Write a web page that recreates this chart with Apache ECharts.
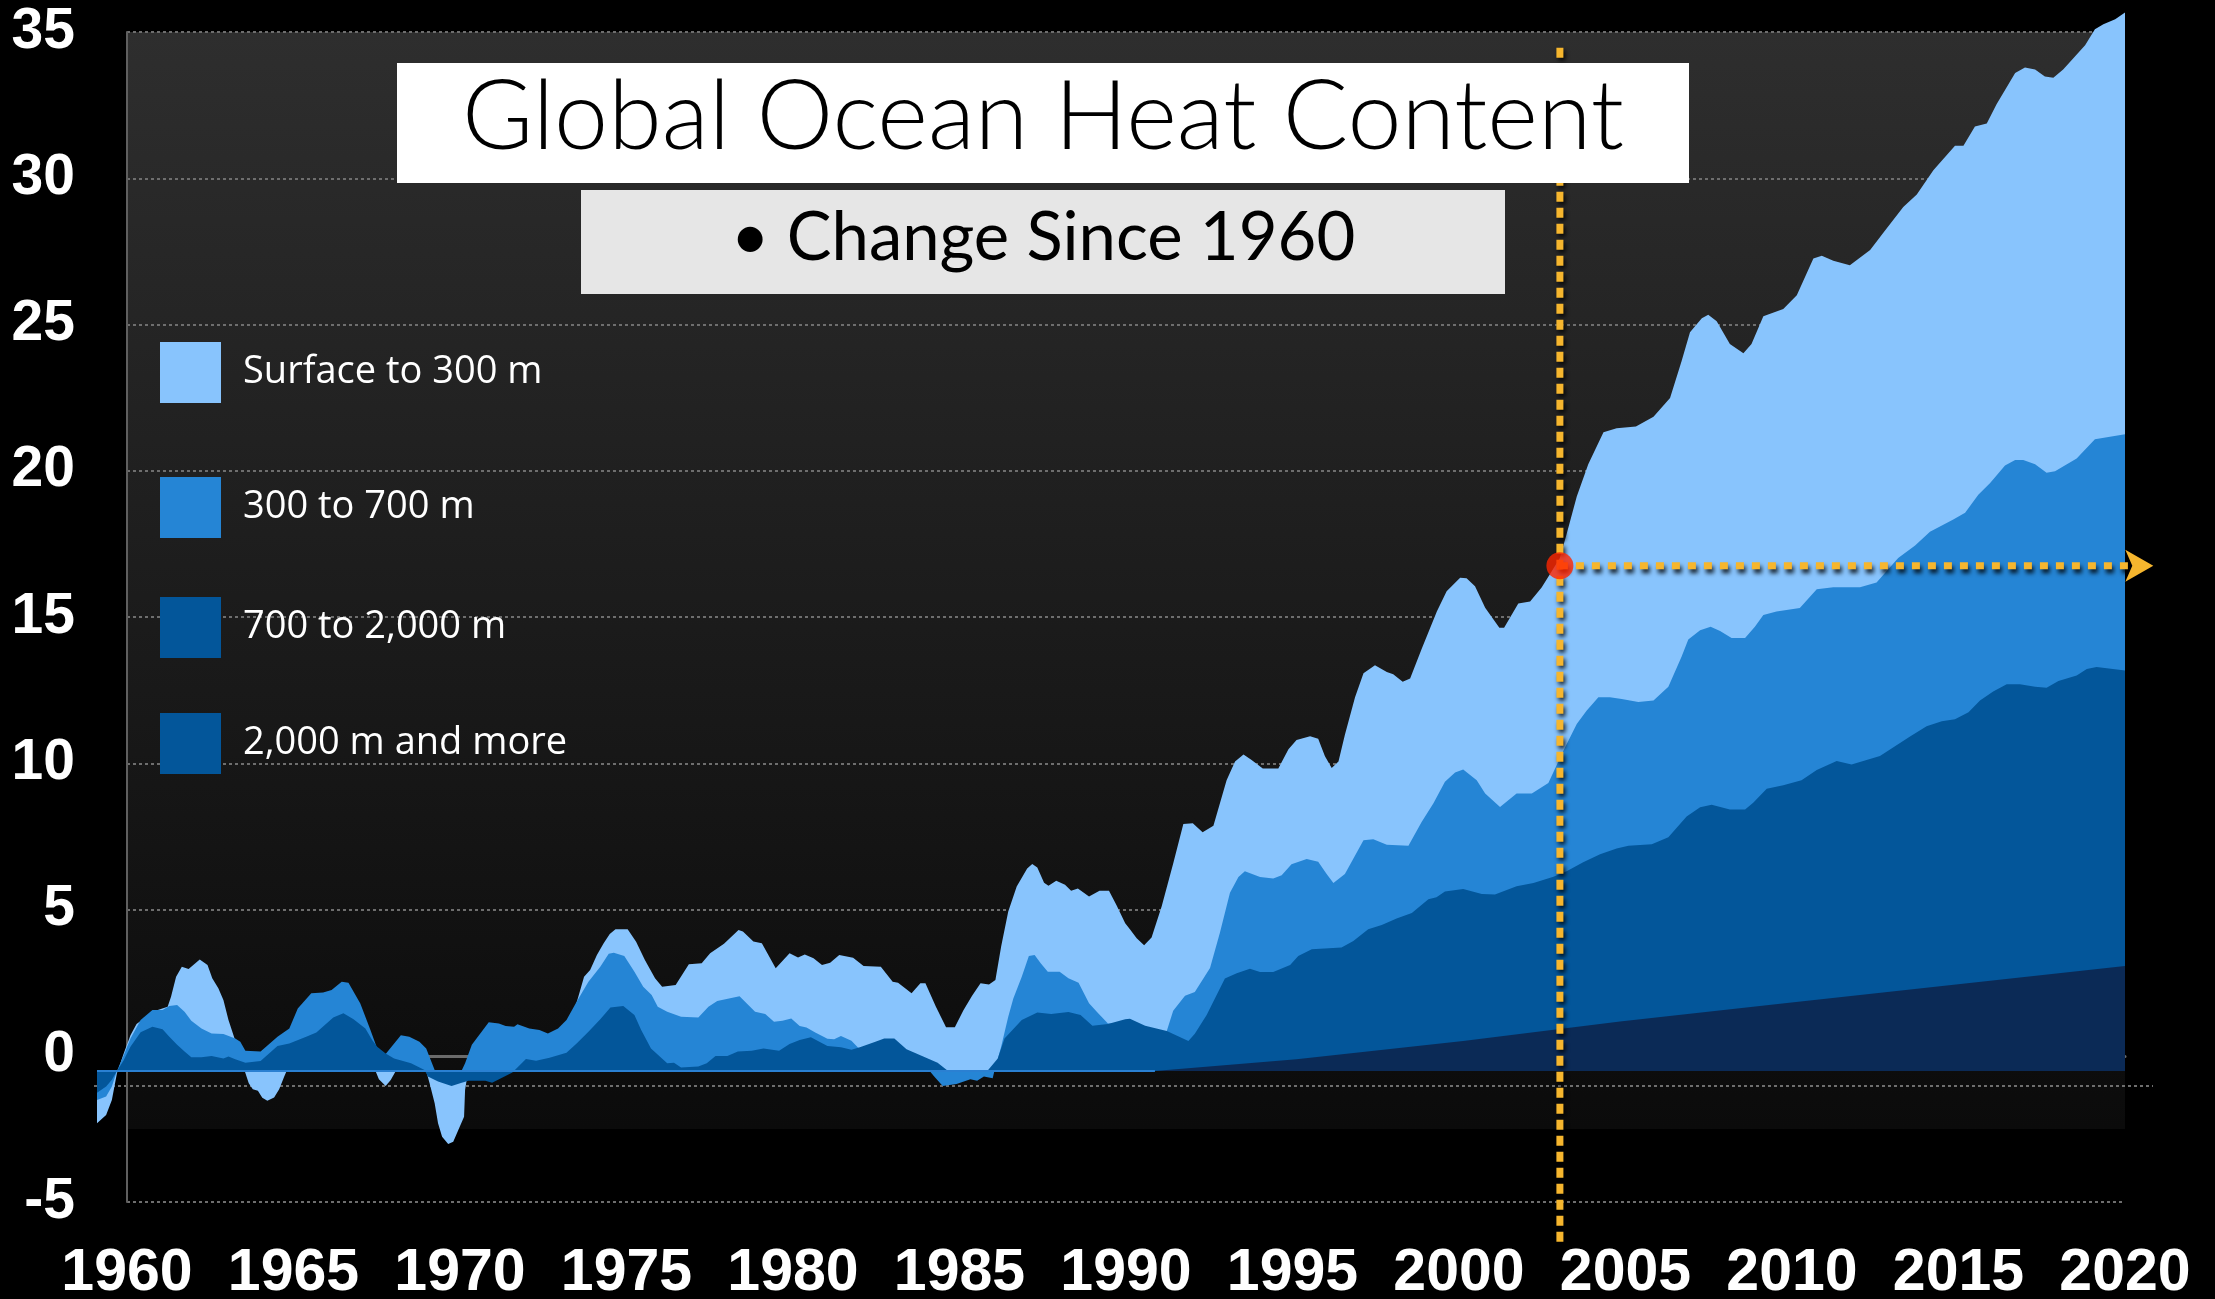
<!DOCTYPE html>
<html>
<head>
<meta charset="utf-8">
<script src="https://cdn.jsdelivr.net/npm/echarts@6/dist/echarts.min.js"></script>
<style>
html,body{margin:0;padding:0;background:#000;}
#c{width:2215px;height:1299px;}
</style>
</head>
<body>
<div id="c"></div>
<script>
// ---- data (change since 1960, cumulative layers, [year, value]) ----
const seriesNames = ['Surface to 300 m', '300 to 700 m', '700 to 2,000 m', '2,000 m and more'];
const xTicks = [1960, 1965, 1970, 1975, 1980, 1985, 1990, 1995, 2000, 2005, 2010, 2015, 2020];
const yTicks = [-5, 0, 5, 10, 15, 20, 25, 30, 35];

const surfaceTo300 = [[1960.0,-1.78],[1960.27,-1.50],[1960.44,-0.99],[1960.59,-0.08],[1960.79,0.60],[1960.99,1.22],[1961.17,1.60],[1961.29,1.70],[1961.64,2.02],[1962.09,2.19],[1962.19,2.53],[1962.34,3.21],[1962.51,3.55],[1962.71,3.47],[1963.04,3.80],[1963.27,3.61],[1963.41,3.16],[1963.59,2.82],[1963.74,2.42],[1963.89,1.74],[1964.07,1.11],[1964.24,0.94],[1964.37,0.0],[1964.49,-0.42],[1964.61,-0.62],[1964.76,-0.67],[1964.89,-0.91],[1965.04,-1.01],[1965.24,-0.90],[1965.39,-0.62],[1965.54,-0.19],[1965.61,0.0],[1966.5,0.6],[1967.5,0.8],[1968.24,0.0],[1968.34,-0.28],[1968.54,-0.51],[1968.69,-0.31],[1968.84,0.0],[1969.3,0.3],[1969.74,0.0],[1969.84,-0.42],[1969.99,-1.10],[1970.09,-1.78],[1970.21,-2.24],[1970.39,-2.49],[1970.54,-2.41],[1970.69,-2.01],[1970.86,-1.56],[1970.89,-0.65],[1970.97,-0.08],[1971.5,0.6],[1972.5,1.0],[1973.5,1.1],[1974.0,1.6],[1974.24,2.53],[1974.41,3.21],[1974.59,3.44],[1974.79,3.95],[1974.99,4.35],[1975.17,4.67],[1975.34,4.83],[1975.70,4.83],[1975.95,4.40],[1976.21,3.78],[1976.51,3.16],[1976.72,2.87],[1977.12,2.93],[1977.51,3.64],[1977.89,3.67],[1978.14,4.01],[1978.55,4.33],[1978.98,4.80],[1979.11,4.75],[1979.42,4.41],[1979.67,4.35],[1980.08,3.50],[1980.49,4.01],[1980.74,3.87],[1980.94,3.97],[1981.20,3.84],[1981.45,3.61],[1981.69,3.69],[1981.96,3.95],[1982.37,3.86],[1982.68,3.58],[1983.19,3.55],[1983.54,3.04],[1983.70,3.01],[1984.10,2.65],[1984.36,2.99],[1984.51,2.99],[1984.82,2.19],[1985.12,1.49],[1985.38,1.49],[1985.63,2.06],[1985.89,2.56],[1986.14,2.99],[1986.39,2.95],[1986.58,3.10],[1986.75,4.24],[1986.96,5.43],[1987.21,6.28],[1987.52,6.90],[1987.67,7.05],[1987.82,6.93],[1988.02,6.41],[1988.15,6.31],[1988.38,6.48],[1988.64,6.34],[1988.82,6.14],[1989.02,6.22],[1989.35,5.94],[1989.66,6.14],[1989.94,6.14],[1990.16,5.65],[1990.42,5.03],[1990.56,4.83],[1990.76,4.52],[1990.98,4.28],[1991.20,4.55],[1991.50,5.61],[1991.84,7.07],[1992.14,8.41],[1992.42,8.44],[1992.71,8.13],[1993.03,8.35],[1993.42,9.90],[1993.67,10.54],[1993.92,10.78],[1994.16,10.59],[1994.49,10.30],[1994.95,10.30],[1995.25,10.96],[1995.49,11.27],[1995.89,11.40],[1996.13,11.32],[1996.33,10.72],[1996.53,10.32],[1996.73,10.54],[1996.92,11.45],[1997.22,12.73],[1997.47,13.55],[1997.81,13.82],[1998.16,13.59],[1998.35,13.51],[1998.63,13.26],[1998.85,13.37],[1999.19,14.37],[1999.64,15.65],[1999.93,16.34],[2000.33,16.80],[2000.52,16.78],[2000.77,16.51],[2001.07,15.78],[2001.49,15.10],[2001.63,15.10],[2002.05,15.92],[2002.40,15.99],[2002.74,16.47],[2003.04,17.02],[2003.28,17.47],[2003.48,18.29],[2003.78,19.57],[2004.12,20.67],[2004.57,21.76],[2004.96,21.89],[2005.53,21.95],[2006.05,22.28],[2006.54,22.92],[2006.88,24.17],[2007.13,25.16],[2007.48,25.64],[2007.67,25.76],[2007.92,25.54],[2008.31,24.76],[2008.71,24.45],[2008.95,24.76],[2009.30,25.71],[2009.89,25.95],[2010.29,26.42],[2010.78,27.67],[2011.03,27.77],[2011.37,27.60],[2011.86,27.44],[2012.46,27.96],[2012.85,28.55],[2013.44,29.43],[2013.84,29.85],[2014.33,30.68],[2014.97,31.51],[2015.22,31.51],[2015.56,32.17],[2015.91,32.27],[2016.20,32.93],[2016.75,33.99],[2017.04,34.18],[2017.34,34.11],[2017.63,33.87],[2017.88,33.83],[2018.17,34.11],[2018.82,34.94],[2019.11,35.48],[2019.36,35.65],[2019.71,35.82],[2020.0,36.05]];

const from300To700 = [[1960.0,-0.99],[1960.27,-0.87],[1960.44,-0.53],[1960.59,0.0],[1960.79,0.54],[1960.99,1.11],[1961.29,1.74],[1961.64,2.08],[1961.94,2.08],[1962.14,2.21],[1962.37,2.25],[1962.59,2.02],[1962.79,1.71],[1963.09,1.45],[1963.39,1.28],[1963.74,1.26],[1964.09,1.11],[1964.24,1.00],[1964.39,0.69],[1964.84,0.66],[1965.34,1.17],[1965.69,1.45],[1965.94,2.13],[1966.34,2.65],[1966.69,2.67],[1966.94,2.76],[1967.24,3.04],[1967.44,3.01],[1967.79,2.30],[1968.09,1.40],[1968.29,0.77],[1968.54,0.58],[1968.99,1.22],[1969.24,1.17],[1969.54,1.00],[1969.74,0.77],[1969.99,0.03],[1970.79,0.02],[1970.89,0.26],[1971.09,0.89],[1971.59,1.66],[1971.89,1.62],[1972.09,1.53],[1972.34,1.51],[1972.44,1.59],[1972.79,1.45],[1973.09,1.40],[1973.34,1.28],[1973.64,1.45],[1973.89,1.74],[1974.19,2.36],[1974.54,3.04],[1974.89,3.55],[1975.14,3.99],[1975.29,4.03],[1975.60,3.92],[1975.90,3.38],[1976.16,2.87],[1976.41,2.59],[1976.59,2.19],[1976.87,2.02],[1977.28,1.85],[1977.79,1.82],[1978.09,2.19],[1978.35,2.38],[1979.01,2.55],[1979.47,2.02],[1979.77,1.94],[1980.03,1.68],[1980.28,1.71],[1980.54,1.79],[1980.79,1.53],[1980.99,1.48],[1981.25,1.31],[1981.61,1.10],[1981.81,1.08],[1982.01,1.19],[1982.32,1.03],[1982.52,0.79],[1983.2,0.7],[1984.0,0.4],[1984.5,0.15],[1984.61,0.03],[1984.77,-0.19],[1985.02,-0.51],[1985.43,-0.44],[1985.84,-0.28],[1986.04,-0.33],[1986.24,-0.19],[1986.50,-0.25],[1986.55,0.0],[1986.75,0.83],[1986.96,1.85],[1987.11,2.47],[1987.36,3.21],[1987.57,3.92],[1987.74,3.95],[1987.92,3.67],[1988.13,3.38],[1988.48,3.38],[1988.74,3.16],[1989.04,3.01],[1989.35,2.31],[1989.60,1.99],[1989.91,1.62],[1990.5,1.6],[1991.3,1.3],[1991.65,1.36],[1991.84,2.05],[1992.19,2.56],[1992.48,2.69],[1992.93,3.51],[1993.22,4.70],[1993.52,6.07],[1993.77,6.61],[1993.96,6.80],[1994.41,6.61],[1994.80,6.56],[1995.05,6.67],[1995.34,7.04],[1995.79,7.22],[1996.13,7.13],[1996.38,6.71],[1996.58,6.40],[1996.92,6.71],[1997.47,7.86],[1997.76,7.89],[1998.16,7.71],[1998.80,7.67],[1999.19,8.48],[1999.54,9.12],[1999.88,9.85],[2000.18,10.17],[2000.42,10.27],[2000.82,9.90],[2001.07,9.45],[2001.51,8.99],[2002.00,9.45],[2002.45,9.45],[2002.94,9.81],[2003.38,10.90],[2003.78,11.82],[2004.07,12.27],[2004.42,12.73],[2004.76,12.73],[2005.11,12.67],[2005.60,12.57],[2006.05,12.62],[2006.49,13.09],[2006.88,14.11],[2007.08,14.70],[2007.43,15.01],[2007.74,15.13],[2008.02,14.99],[2008.36,14.75],[2008.76,14.75],[2009.05,15.13],[2009.30,15.53],[2009.69,15.65],[2010.38,15.77],[2010.88,16.41],[2011.37,16.48],[2012.16,16.48],[2012.65,16.64],[2013.29,17.47],[2013.79,17.90],[2014.23,18.37],[2014.92,18.78],[2015.27,19.01],[2015.66,19.63],[2016.01,20.03],[2016.45,20.62],[2016.75,20.81],[2016.99,20.81],[2017.34,20.67],[2017.68,20.38],[2017.93,20.43],[2018.57,20.86],[2019.11,21.52],[2020.0,21.69]];

const from700To2000 = [[1960.0,-0.74],[1960.27,-0.53],[1960.44,-0.30],[1960.59,0.0],[1960.79,0.37],[1960.99,0.83],[1961.29,1.32],[1961.64,1.51],[1961.94,1.42],[1962.14,1.17],[1962.37,0.89],[1962.59,0.66],[1962.79,0.47],[1963.09,0.47],[1963.39,0.51],[1963.74,0.43],[1963.89,0.49],[1964.09,0.40],[1964.39,0.28],[1964.84,0.34],[1965.34,0.85],[1965.69,0.94],[1966.19,1.17],[1966.49,1.31],[1966.99,1.82],[1967.29,1.97],[1967.59,1.76],[1967.94,1.45],[1968.14,1.06],[1968.29,0.83],[1968.54,0.60],[1968.79,0.43],[1969.29,0.26],[1969.69,0.03],[1969.79,-0.19],[1970.09,-0.36],[1970.49,-0.51],[1970.79,-0.40],[1970.99,-0.33],[1971.49,-0.33],[1971.69,-0.40],[1972.29,-0.05],[1972.69,0.41],[1972.99,0.35],[1973.39,0.45],[1973.89,0.62],[1974.19,0.94],[1974.54,1.34],[1974.89,1.76],[1975.19,2.16],[1975.57,2.21],[1975.90,1.91],[1976.10,1.40],[1976.39,0.77],[1976.87,0.26],[1977.07,0.28],[1977.28,0.12],[1977.79,0.15],[1978.04,0.26],[1978.30,0.51],[1978.65,0.51],[1978.96,0.66],[1979.37,0.69],[1979.72,0.77],[1980.18,0.69],[1980.49,0.92],[1980.79,1.06],[1981.12,1.15],[1981.61,0.85],[1982.01,0.81],[1982.32,0.72],[1982.57,0.81],[1983.03,1.00],[1983.29,1.11],[1983.59,1.11],[1983.95,0.74],[1984.41,0.51],[1984.87,0.28],[1985.17,0.01],[1986.34,0.0],[1986.65,0.43],[1986.85,1.11],[1987.36,1.74],[1987.82,1.99],[1988.23,1.94],[1988.74,2.01],[1989.10,1.91],[1989.45,1.54],[1989.91,1.60],[1990.42,1.76],[1990.56,1.78],[1991.01,1.54],[1991.65,1.36],[1992.29,1.02],[1992.48,1.27],[1992.83,1.91],[1993.37,3.15],[1993.72,3.33],[1994.11,3.48],[1994.41,3.37],[1994.80,3.37],[1995.30,3.61],[1995.54,3.92],[1995.94,4.15],[1996.82,4.21],[1997.17,4.43],[1997.61,4.83],[1998.01,4.97],[1998.45,5.19],[1998.90,5.38],[1999.39,5.85],[1999.63,5.92],[1999.88,6.11],[2000.42,6.20],[2000.97,6.03],[2001.36,6.01],[2002.00,6.29],[2002.50,6.40],[2003.09,6.62],[2003.48,6.80],[2003.97,7.11],[2004.47,7.38],[2004.96,7.58],[2005.31,7.67],[2006.00,7.72],[2006.49,7.96],[2007.03,8.67],[2007.43,8.98],[2007.77,9.07],[2008.31,8.91],[2008.76,8.91],[2009.00,9.14],[2009.40,9.61],[2009.89,9.73],[2010.43,9.90],[2010.88,10.25],[2011.47,10.56],[2011.91,10.44],[2012.75,10.73],[2013.15,11.03],[2013.64,11.39],[2014.13,11.74],[2014.58,11.91],[2014.97,11.98],[2015.37,12.22],[2015.71,12.62],[2016.10,12.93],[2016.50,13.17],[2016.89,13.17],[2017.34,13.09],[2017.68,13.05],[2018.03,13.28],[2018.57,13.47],[2018.87,13.69],[2019.16,13.76],[2020.0,13.64]];

const from2000Down = [[1960.0,0.0],[1991.3,0.0],[1995.49,0.40],[2000.42,1.02],[2005.06,1.69],[2010.0,2.32],[2015.0,2.95],[2020.0,3.58]];
const zeroStripe = [[1960.0,0.0],[1991.3,0.0]];

// reference marker (year, value on the visible axis)
const refPoint = [2003.03, 16.75];
const refVerticalSpan = [34.46, -6.45];
const refArrowEnd = 2020.85;

const titleText = 'Global Ocean Heat Content';
const subtitleText = '\u2022 Change Since 1960';

// ---- styles ----
const C_LIGHT = '#88C4FD', C_MID = '#2585D5', C_DARK = '#03569A', C_NAVY = '#0B2A56';
const ORANGE = '#F6B62E';
const AX_FONT = 'Liberation Sans, Arial, sans-serif';

const chart = echarts.init(document.getElementById('c'), null, {renderer: 'canvas', width: 2215, height: 1299});

function areaSeries(name, data, color) {
  return {
    name: name, type: 'line', xAxisIndex: 2, yAxisIndex: 1, data: data,
    symbol: 'none', showSymbol: false, smooth: false, clip: false, silent: true,
    color: color, lineStyle: {width: 0, color: color}, areaStyle: {color: color, opacity: 1},
    z: 2
  };
}

function legendAt(top, name, color) {
  return {
    left: 160, top: top, padding: 0, orient: 'vertical', selectedMode: false,
    icon: 'rect', itemWidth: 61, itemHeight: 61,
    data: [{name: name, itemStyle: {color: color}}],
    textStyle: {color: '#ffffff', fontSize: 38, fontFamily: 'Open Sans, Noto Sans, sans-serif', padding: [0, 0, 0, 17]}
  };
}

const option = {
  backgroundColor: '#000000',
  animation: false,
  grid: [
    {left: 127, right: 90, top: 32, bottom: 97, containLabel: false, outerBoundsMode: 'none'},
    {left: 97, right: 90, top: 2.3, bottom: 110.56, containLabel: false, outerBoundsMode: 'none'}
  ],
  xAxis: [
    {gridIndex: 0, type: 'value', min: xTicks[0], max: xTicks[xTicks.length - 1], interval: 5,
     axisLine: {show: false, onZero: false}, axisTick: {show: false}, splitLine: {show: false},
     axisLabel: {color: '#ffffff', fontFamily: AX_FONT, fontWeight: 'bold', fontSize: 59, margin: 42,
                 formatter: function (v) { return String(v); }}},
    {gridIndex: 0, type: 'value', min: xTicks[0], max: xTicks[xTicks.length - 1], position: 'bottom',
     axisLine: {show: true, onZero: true, lineStyle: {color: '#6b6b6b', width: 3}},
     axisTick: {show: false}, axisLabel: {show: false}, splitLine: {show: false}},
    {gridIndex: 1, type: 'value', min: 1960, max: 2020, show: false}
  ],
  yAxis: [
    {gridIndex: 0, type: 'value', min: yTicks[0], max: yTicks[yTicks.length - 1], interval: 5,
     axisLine: {show: true, onZero: false, lineStyle: {color: '#5f5f5f', width: 2}}, axisTick: {show: false},
     axisLabel: {color: '#ffffff', fontFamily: AX_FONT, fontWeight: 'bold', fontSize: 57, margin: 52, align: 'right'},
     splitLine: {show: true, lineStyle: {color: '#6e6e6e', width: 2, type: [3, 3]}}},
    {gridIndex: 1, type: 'value', min: -4, max: 36.4, show: false}
  ],
  legend: [
    legendAt(342, seriesNames[0], C_LIGHT),
    legendAt(477, seriesNames[1], C_MID),
    legendAt(597, seriesNames[2], C_DARK),
    legendAt(713, seriesNames[3], C_DARK)
  ],
  graphic: [
    {type: 'rect', z: -20, silent: true, shape: {x: 127, y: 32, width: 1998, height: 1097},
     style: {fill: new echarts.graphic.LinearGradient(0, 0, 0, 1, [{offset: 0, color: '#2e2e2e'}, {offset: 1, color: '#0b0b0b'}])}},
    {type: 'line', z: -10, silent: true, shape: {x1: 94, y1: 1086, x2: 2153, y2: 1086},
     style: {stroke: '#6e6e6e', lineWidth: 2, lineDash: [3, 3]}},
    {type: 'rect', z: 100, silent: true, shape: {x: 397, y: 63, width: 1292, height: 120}, style: {fill: '#ffffff'}},
    {type: 'text', z: 101, silent: true, x: 1043, y: 118,
     style: {text: titleText, fill: '#000000', font: '300 97px Lato, "Open Sans", sans-serif', textAlign: 'center', textVerticalAlign: 'middle'}},
    {type: 'rect', z: 100, silent: true, shape: {x: 581, y: 190, width: 924, height: 104}, style: {fill: '#e6e6e6'}},
    {type: 'text', z: 101, silent: true, x: 1043, y: 238,
     style: {text: subtitleText, fill: '#000000', font: '400 67px Lato, "Open Sans", sans-serif', textAlign: 'center', textVerticalAlign: 'middle'}}
  ],
  series: [
    areaSeries(seriesNames[0], surfaceTo300, C_LIGHT),
    areaSeries(seriesNames[1], from300To700, C_MID),
    areaSeries(seriesNames[2], from700To2000, C_DARK),
    areaSeries(seriesNames[3], from2000Down, C_NAVY),
    {name: 'zero', type: 'line', xAxisIndex: 2, yAxisIndex: 1, data: zeroStripe, symbol: 'none', silent: true,
     lineStyle: {color: '#2a80d2', width: 2}, z: 3},
    {name: 'refV', type: 'line', xAxisIndex: 0, yAxisIndex: 0, clip: false, silent: true, symbol: 'none',
     data: [[refPoint[0], refVerticalSpan[0]], [refPoint[0], refVerticalSpan[1]]],
     lineStyle: {color: ORANGE, width: 7, type: [10, 6], shadowColor: 'rgba(0,0,0,0.8)', shadowBlur: 4, shadowOffsetX: 2, shadowOffsetY: 3},
     z: 10},
    {name: 'refH', type: 'line', xAxisIndex: 0, yAxisIndex: 0, clip: false, silent: true,
     showSymbol: true, showAllSymbol: true,
     data: [{value: [refPoint[0], refPoint[1]], symbol: 'none'},
            {value: [refArrowEnd, refPoint[1]], symbol: 'arrow', symbolSize: [24, 28], symbolRotate: -90}],
     itemStyle: {color: ORANGE},
     lineStyle: {color: ORANGE, width: 7, type: [8, 8], shadowColor: 'rgba(0,0,0,0.8)', shadowBlur: 4, shadowOffsetX: 2, shadowOffsetY: 4},
     z: 10},
    {name: 'refDot', type: 'scatter', xAxisIndex: 0, yAxisIndex: 0, silent: true,
     data: [refPoint], symbol: 'circle', symbolSize: 27, itemStyle: {color: '#FF2600'}, z: 12}
  ]
};
chart.setOption(option);
</script>
</body>
</html>
